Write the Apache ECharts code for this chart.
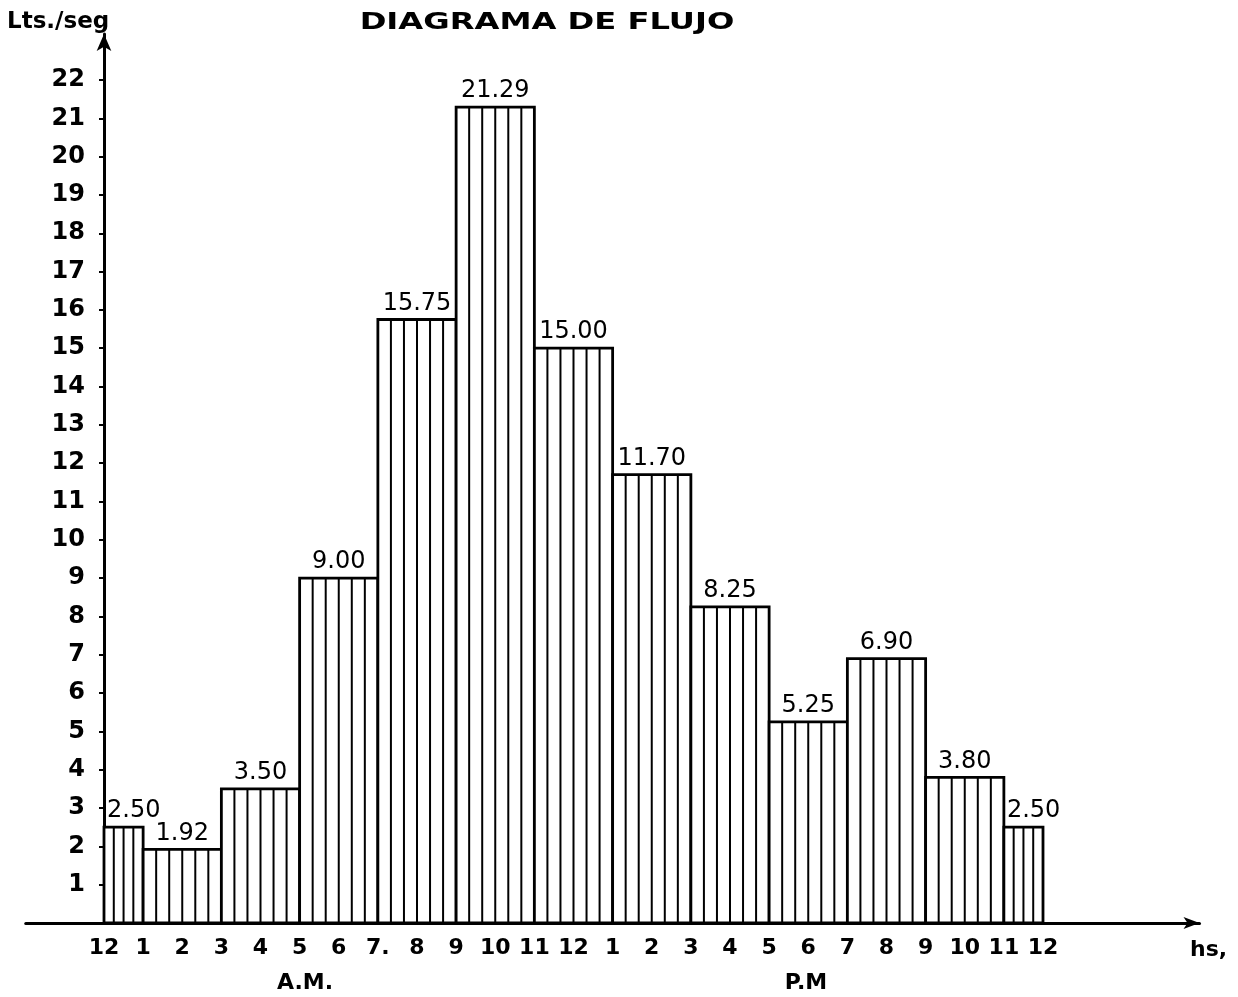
<!DOCTYPE html>
<html>
<head>
<meta charset="utf-8">
<script src="https://cdn.jsdelivr.net/npm/echarts@6/dist/echarts.min.js"></script>
<style>
  html, body { margin: 0; padding: 0; background: #fff; }
  #chart { width: 1238px; height: 997px; }
</style>
</head>
<body>
<div id="chart"></div>
<script>
// Hourly flow intervals (hours after midnight) and mean flow in litres per second
const hourStart = [0, 1, 3, 5, 7, 9, 11, 13, 15, 17, 19, 21, 23];
const hourEnd   = [1, 3, 5, 7, 9, 11, 13, 15, 17, 19, 21, 23, 24];
const flow      = [2.50, 1.92, 3.50, 9.00, 15.75, 21.29, 15.00, 11.70, 8.25, 5.25, 6.90, 3.80, 2.50];

// Clock-face labels along the time axis (0 .. 24 h)
const hourLabels = ['12', '1', '2', '3', '4', '5', '6', '7.', '8', '9', '10', '11',
                    '12', '1', '2', '3', '4', '5', '6', '7', '8', '9', '10', '11', '12'];
const hourTicks = hourLabels.map((_, i) => i);
const flowTicks = [1, 2, 3, 4, 5, 6, 7, 8, 9, 10, 11, 12, 13, 14, 15, 16, 17, 18, 19, 20, 21, 22];

const FONT = '"DejaVu Sans", sans-serif';
const chart = echarts.init(document.getElementById('chart'), null, { renderer: 'canvas' });

// Time axis runs from -2 h to 28 h so the baseline reaches past both ends
const X_MIN = -2, X_MAX = 28;
const GRID_LEFT = 25.75, GRID_RIGHT = 38.5;
const pxPerHour = (1238 - GRID_LEFT - GRID_RIGHT) / (X_MAX - X_MIN);

const barData = hourStart.map((s, i) => [s, hourEnd[i], flow[i]]);

// Hatched step bar: outline plus evenly spaced vertical rules
function renderBar(params, api) {
  const s = api.value(0), e = api.value(1), v = api.value(2);
  const p0 = api.coord([s, 0]);
  const p1 = api.coord([e, v]);
  const x0 = p0[0], x1 = p1[0], yb = p0[1], yt = p1[1];
  const w = x1 - x0;
  const stripes = (e - s) >= 2 ? 6 : 4;
  const children = [{
    type: 'rect',
    shape: { x: x0, y: yt, width: w, height: yb - yt },
    style: { fill: '#fff', stroke: '#000', lineWidth: 2.8 }
  }];
  for (let k = 1; k < stripes; k++) {
    const x = x0 + w * k / stripes;
    children.push({
      type: 'line',
      shape: { x1: x, y1: yt, x2: x, y2: yb },
      style: { stroke: '#000', lineWidth: 2 }
    });
  }
  const narrow = (e - s) < 2;
  children.push({
    type: 'text',
    style: {
      text: v.toFixed(2),
      x: narrow ? x0 + 3 : x0 + w / 2,
      y: yt - 4,
      textAlign: narrow ? 'left' : 'center',
      textVerticalAlign: 'bottom',
      font: '24px ' + FONT,
      fill: '#000'
    }
  });
  return { type: 'group', children };
}

chart.setOption({
  backgroundColor: '#fff',
  animation: false,
  grid: {
    left: GRID_LEFT, right: GRID_RIGHT, top: 34, bottom: 74,
    containLabel: false, outerBoundsMode: 'none'
  },
  xAxis: {
    type: 'value',
    min: X_MIN,
    max: X_MAX,
    interval: 1,
    splitLine: { show: false },
    axisLine: {
      show: true,
      onZero: true,
      symbol: ['none', 'arrow'],
      symbolSize: [9, 16],
      lineStyle: { color: '#000', width: 3 }
    },
    axisTick: { show: false },
    axisLabel: {
      customValues: hourTicks,
      formatter: v => hourLabels[Math.round(v)] || '',
      margin: 14,
      color: '#000',
      fontFamily: FONT,
      fontWeight: 'bold',
      fontSize: 22
    }
  },
  yAxis: {
    type: 'value',
    min: 0,
    max: 23.2,
    interval: 1,
    // sit the vertical axis at 0 h on the time scale
    offset: -(0 - X_MIN) * pxPerHour,
    splitLine: { show: false },
    axisLine: {
      show: true,
      onZero: false,
      symbol: ['none', 'arrow'],
      symbolSize: [11, 17],
      lineStyle: { color: '#000', width: 3 }
    },
    axisTick: {
      show: true,
      customValues: flowTicks,
      length: 5,
      lineStyle: { color: '#000', width: 2 }
    },
    axisLabel: {
      customValues: flowTicks,
      margin: 19,
      color: '#000',
      fontFamily: FONT,
      fontWeight: 'bold',
      fontSize: 24
    }
  },
  graphic: [
    {
      type: 'text', x: 547, y: 23, scaleX: 1.4,
      style: { text: 'DIAGRAMA DE FLUJO', x: 0, y: 0, textAlign: 'center', textVerticalAlign: 'middle',
               font: 'bold 23px ' + FONT, fill: '#000' }
    },
    {
      type: 'text', x: 7, y: 22,
      style: { text: 'Lts./seg', x: 0, y: 0, textAlign: 'left', textVerticalAlign: 'middle',
               font: 'bold 23px ' + FONT, fill: '#000' }
    },
    {
      type: 'text', x: 1190, y: 950,
      style: { text: 'hs,', x: 0, y: 0, textAlign: 'left', textVerticalAlign: 'middle',
               font: 'bold 22px ' + FONT, fill: '#000' }
    },
    {
      type: 'text', x: 305, y: 983,
      style: { text: 'A.M.', x: 0, y: 0, textAlign: 'center', textVerticalAlign: 'middle',
               font: 'bold 22px ' + FONT, fill: '#000' }
    },
    {
      type: 'text', x: 806, y: 983,
      style: { text: 'P.M', x: 0, y: 0, textAlign: 'center', textVerticalAlign: 'middle',
               font: 'bold 22px ' + FONT, fill: '#000' }
    }
  ],
  series: [{
    type: 'custom',
    renderItem: renderBar,
    encode: { x: [0, 1], y: 2 },
    data: barData,
    z: 3
  }]
});
</script>
</body>
</html>
